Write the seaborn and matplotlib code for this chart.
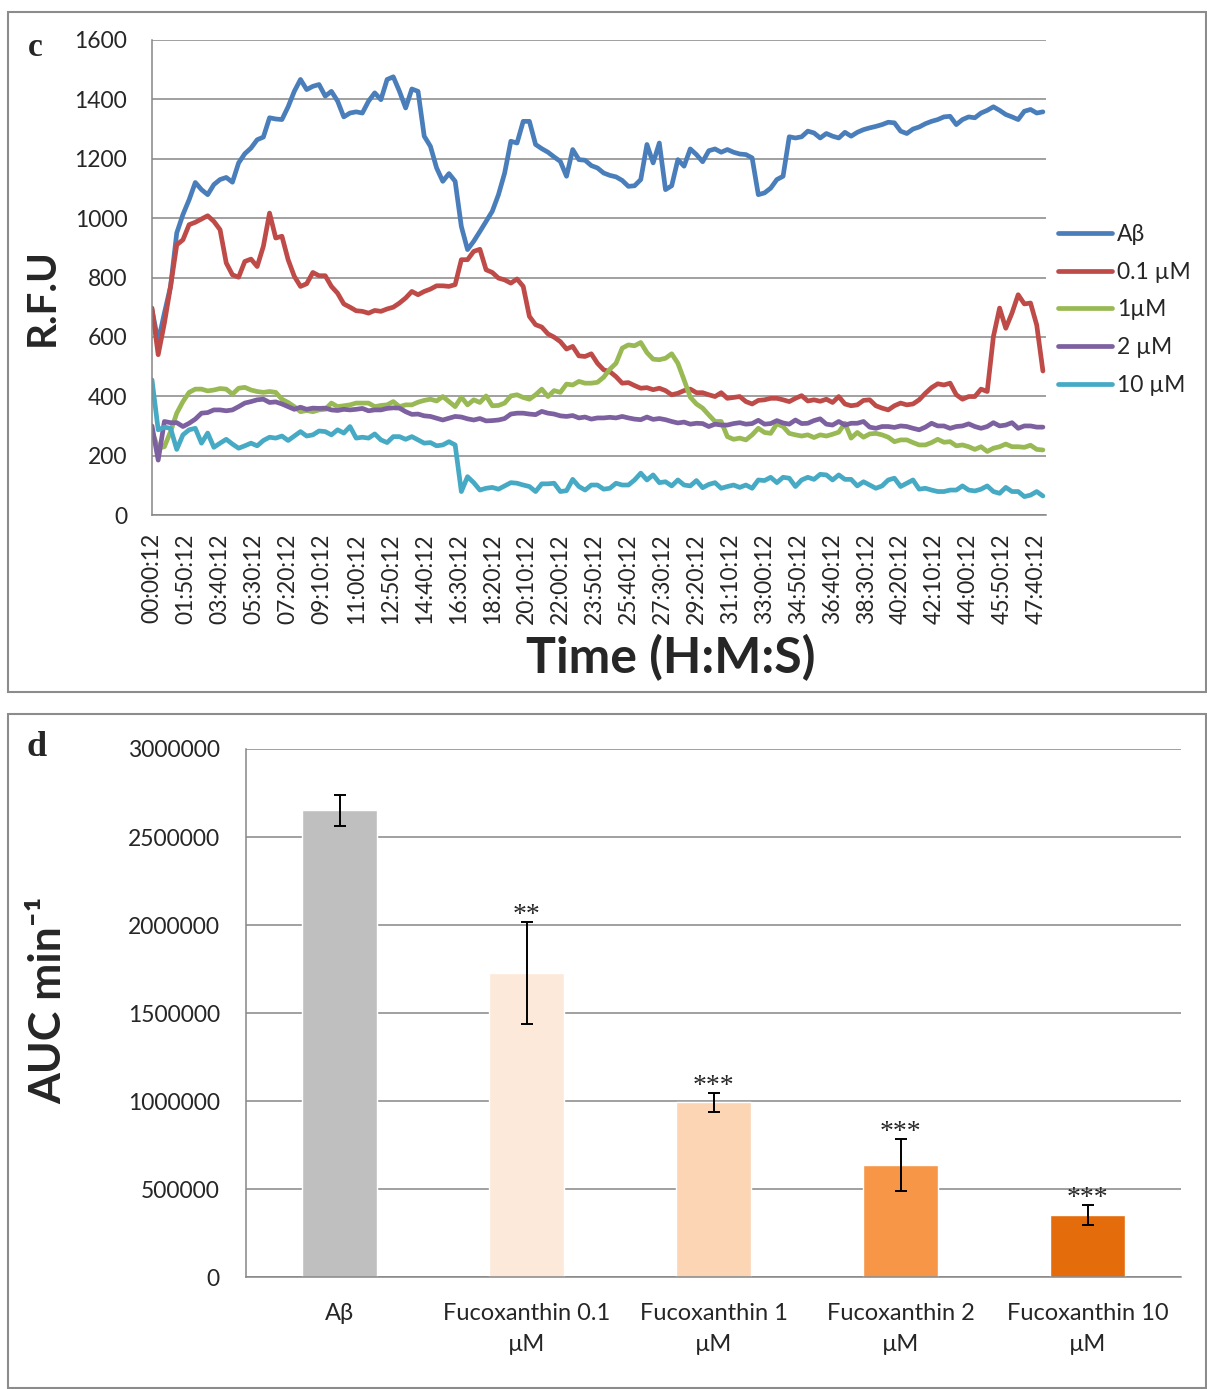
import numpy as np
import pandas as pd
import matplotlib
matplotlib.use("Agg")
import matplotlib.pyplot as plt
import seaborn as sns
from matplotlib.patches import Rectangle
from matplotlib.lines import Line2D

# ---------------- data: panel c (RFU over time, one value every 20 min) -------------
minutes = list(range(0, 2881, 20))

abeta = [691, 584, 680, 770, 950, 1012, 1062, 1120, 1096, 1079, 1113, 1130, 1137, 1121, 1186, 1217, 1236, 1264, 1273, 1338, 1334, 1332, 1375, 1427, 1467, 1433, 1444, 1450, 1411,
         1427, 1394, 1341, 1354, 1358, 1354, 1394, 1422, 1399, 1467, 1476, 1427, 1371, 1435, 1427, 1276, 1242, 1169, 1124, 1150, 1124, 972, 894, 922, 955, 989, 1023, 1079, 1152,
         1259, 1253, 1326, 1326, 1248, 1234, 1222, 1206, 1191, 1141, 1231, 1197, 1195, 1177, 1169, 1152, 1144, 1139, 1127, 1107, 1109, 1130, 1248, 1186, 1253, 1096, 1109, 1197, 1175,
         1233, 1214, 1190, 1227, 1233, 1222, 1231, 1222, 1216, 1214, 1203, 1079, 1085, 1101, 1130, 1141, 1274, 1270, 1274, 1293, 1287, 1270, 1285, 1276, 1270, 1289, 1276, 1289, 1298,
         1304, 1309, 1315, 1323, 1321, 1293, 1285, 1300, 1307, 1318, 1326, 1332, 1341, 1343, 1315, 1332, 1341, 1338, 1354, 1363, 1375, 1363, 1349, 1341, 1332, 1360, 1366, 1354, 1358]

fx_01 = [697, 540, 646, 770, 910, 927, 978, 986, 997, 1008, 989, 961, 849, 809, 801, 854, 862, 837, 905, 1017, 933, 939, 860, 804, 770, 779, 817, 806, 806,
         770, 747, 711, 700, 688, 686, 680, 689, 686, 694, 700, 714, 731, 753, 742, 753, 761, 772, 772, 770, 776, 860, 860, 888, 895, 826, 817, 798, 792,
         781, 795, 770, 669, 641, 633, 610, 599, 584, 559, 568, 536, 534, 543, 511, 489, 483, 466, 444, 446, 436, 427, 429, 422, 427, 419, 405, 410, 419,
         424, 412, 412, 405, 399, 412, 393, 396, 399, 382, 374, 386, 388, 393, 393, 388, 382, 393, 402, 384, 388, 383, 390, 379, 399, 374, 368, 371, 386,
         388, 368, 360, 354, 368, 377, 371, 374, 388, 410, 429, 442, 438, 444, 405, 390, 399, 399, 424, 416, 601, 697, 629, 680, 742, 711, 714, 640, 485]

fx_1 = [280, 225, 230, 281, 343, 382, 413, 424, 424, 418, 421, 426, 424, 407, 427, 430, 421, 416, 413, 416, 413, 390, 379, 365, 348, 352, 348, 354, 356,
        377, 365, 368, 371, 377, 377, 377, 365, 369, 371, 382, 365, 371, 371, 380, 386, 390, 384, 399, 382, 365, 397, 371, 388, 379, 401, 368, 369, 377,
        401, 405, 396, 390, 405, 424, 399, 419, 413, 441, 438, 450, 444, 444, 447, 464, 491, 511, 562, 573, 570, 581, 547, 525, 523, 528, 543, 511, 455,
        397, 374, 360, 337, 315, 315, 264, 255, 259, 253, 270, 292, 278, 275, 307, 298, 275, 270, 266, 270, 261, 270, 266, 272, 279, 309, 259, 278, 262,
        273, 275, 270, 262, 247, 253, 253, 244, 236, 236, 244, 255, 245, 247, 233, 236, 230, 221, 230, 214, 225, 230, 239, 230, 230, 228, 235, 221, 219]

fx_2 = [300, 185, 315, 311, 311, 298, 309, 323, 343, 345, 354, 354, 351, 354, 365, 377, 382, 388, 390, 379, 381, 374, 365, 356, 363, 356, 360, 359, 360,
        354, 352, 356, 354, 356, 359, 351, 354, 354, 359, 361, 360, 348, 339, 340, 334, 332, 326, 320, 326, 332, 330, 324, 320, 325, 317, 318, 320, 325,
        340, 343, 343, 340, 338, 349, 343, 340, 334, 332, 335, 327, 330, 323, 327, 327, 329, 327, 332, 327, 323, 321, 330, 322, 325, 321, 315, 310, 313,
        306, 309, 308, 298, 306, 303, 303, 308, 311, 306, 308, 319, 306, 308, 318, 310, 306, 320, 308, 309, 318, 324, 306, 303, 315, 303, 309, 309, 315,
        296, 292, 298, 298, 295, 300, 298, 292, 287, 296, 309, 300, 300, 292, 298, 300, 307, 298, 292, 298, 311, 300, 303, 311, 292, 300, 300, 296, 296]

fx_10 = [455, 287, 296, 292, 221, 270, 287, 292, 242, 276, 228, 242, 255, 239, 225, 233, 242, 233, 251, 262, 259, 266, 251, 266, 281, 266, 270, 283, 281,
         270, 287, 276, 298, 259, 262, 259, 273, 253, 244, 264, 264, 255, 264, 253, 242, 244, 233, 236, 247, 236, 79, 129, 109, 84, 90, 93, 87, 98,
         109, 107, 101, 96, 79, 105, 105, 107, 79, 82, 120, 96, 84, 101, 101, 87, 90, 107, 101, 101, 118, 141, 118, 135, 109, 112, 98, 118, 101,
         98, 116, 92, 103, 109, 90, 96, 101, 93, 101, 90, 118, 116, 127, 109, 127, 124, 96, 118, 127, 120, 137, 135, 118, 135, 120, 120, 98, 112,
         101, 90, 98, 118, 124, 96, 107, 118, 87, 90, 84, 79, 79, 84, 84, 98, 84, 81, 87, 98, 79, 73, 93, 79, 79, 62, 67, 79, 64]

series_names = ["Aβ", "0.1 µM", "1µM", "2 µM", "10 µM"]
series_colors = ["#4A7EBB", "#BE4B48", "#98B954", "#7D60A0", "#46AAC5"]

time_tick_labels = ["00:00:12", "01:50:12", "03:40:12", "05:30:12", "07:20:12", "09:10:12",
                    "11:00:12", "12:50:12", "14:40:12", "16:30:12", "18:20:12", "20:10:12",
                    "22:00:12", "23:50:12", "25:40:12", "27:30:12", "29:20:12", "31:10:12",
                    "33:00:12", "34:50:12", "36:40:12", "38:30:12", "40:20:12", "42:10:12",
                    "44:00:12", "45:50:12", "47:40:12"]
time_tick_minutes = [110 * i for i in range(len(time_tick_labels))]
rfu_ticks = [0, 200, 400, 600, 800, 1000, 1200, 1400, 1600]

# ---------------- data: panel d (AUC bars) ----------------
auc_categories = ["Aβ", "Fucoxanthin 0.1\nµM", "Fucoxanthin 1\nµM",
                  "Fucoxanthin 2\nµM", "Fucoxanthin 10\nµM"]
auc_mean = [2653000, 1727000, 994000, 636000, 352000]
auc_err = [88000, 290000, 54000, 150000, 57000]
auc_sig = ["", "**", "***", "***", "***"]
auc_colors = ["#BFBFBF", "#FDE9D9", "#FCD5B5", "#F79646", "#E46C0A"]
auc_ticks = [0, 500000, 1000000, 1500000, 2000000, 2500000, 3000000]

# ---------------- style ----------------
sns.set_style("white")
FONT = ["Lato", "Noto Sans", "DejaVu Sans"]
plt.rcParams["font.family"] = FONT
GRID = "#868686"
LW = 3.4

W, H = 1207, 1389
fig = plt.figure(figsize=(W / 100, H / 100), dpi=100)

def fx(px):
    return px / W

def fy(py):
    return 1 - py / H

# panel frames
for top, bottom in [(12, 692), (714, 1388)]:
    fig.add_artist(Rectangle((fx(8), fy(bottom)), fx(1206) - fx(8), fy(top) - fy(bottom),
                             transform=fig.transFigure, fill=False,
                             edgecolor="#8C8C8C", linewidth=1.5))

# ---------------- panel c ----------------
ax1 = fig.add_axes([fx(152), fy(515), fx(1046) - fx(152), fy(40) - fy(515)])
long = pd.DataFrame({
    "minute": minutes * 5,
    "RFU": abeta + fx_01 + fx_1 + fx_2 + fx_10,
    "series": sum([[n] * len(minutes) for n in series_names], []),
})
sns.lineplot(data=long, x="minute", y="RFU", hue="series", hue_order=series_names,
             palette=dict(zip(series_names, series_colors)), linewidth=LW,
             estimator=None, sort=False, legend=False, ax=ax1)
for ln in ax1.get_lines():
    ln.set_solid_capstyle("round")
    ln.set_solid_joinstyle("round")

ax1.set_xlim(0, 2890)
ax1.set_ylim(0, 1600)
ax1.set_yticks(rfu_ticks)
ax1.set_yticklabels([str(v) for v in rfu_ticks], fontsize=16.5)
ax1.set_xticks(time_tick_minutes)
ax1.set_xticklabels(time_tick_labels, rotation=90, fontsize=16.5)
ax1.set_xticks(list(range(0, 2891, 100)), minor=True)
ax1.tick_params(axis="x", which="major", length=0, pad=13)
ax1.tick_params(axis="x", which="minor", length=5, width=1.1, color=GRID, direction="out")
ax1.tick_params(axis="y", which="major", length=5.8, width=1.1, color=GRID, direction="out", pad=12)
ax1.yaxis.grid(True, color=GRID, linewidth=1.1)
ax1.set_axisbelow(True)
for s in ["top", "right"]:
    ax1.spines[s].set_visible(False)
for s in ["left", "bottom"]:
    ax1.spines[s].set_color(GRID)
    ax1.spines[s].set_linewidth(1.1)
ax1.set_xlabel("")
ax1.set_ylabel("")

handles = [Line2D([0], [0], color=c, linewidth=LW, solid_capstyle="round") for c in series_colors]
ax1.legend(handles, series_names, loc="center left", bbox_to_anchor=(fx(1058), fy(310)),
           bbox_transform=fig.transFigure, frameon=False, fontsize=16.5,
           handlelength=2.36, handletextpad=0.2, labelspacing=0.74,
           borderaxespad=0, borderpad=0)

fig.text(fx(42), fy(297), "R.F.U", rotation=90, ha="center", va="center",
         fontsize=29, fontweight="bold")
fig.text(fx(671), fy(658), "Time (H:M:S)", ha="center", va="center",
         fontsize=36, fontweight="bold")
fig.text(fx(35), fy(47), "c", ha="center", va="center", fontsize=24,
         fontweight="bold", family=["Liberation Serif", "DejaVu Serif"])

# ---------------- panel d ----------------
ax2 = fig.add_axes([fx(246), fy(1277), fx(1181) - fx(246), fy(749) - fy(1277)])
sns.barplot(x=auc_categories, y=auc_mean, hue=auc_categories, palette=auc_colors,
            width=0.4, saturation=1, legend=False, errorbar=None, ax=ax2)
xpos = list(range(len(auc_categories)))
ax2.errorbar(xpos, auc_mean, yerr=auc_err, fmt="none", ecolor="black",
             elinewidth=1.4, capsize=4.3, capthick=1.4, zorder=5)
for i, lab in enumerate(auc_sig):
    if lab:
        ax2.annotate(lab, (xpos[i], auc_mean[i] + auc_err[i]), xytext=(0, 0),
                     textcoords="offset points", ha="center", va="baseline",
                     fontsize=20, family=["Liberation Serif", "DejaVu Serif"])

ax2.set_xlim(-0.5, len(auc_categories) - 0.5)
ax2.set_ylim(0, 3000000)
ax2.set_yticks(auc_ticks)
ax2.set_yticklabels([str(v) for v in auc_ticks], fontsize=16.5)
ax2.set_xticks(xpos)
ax2.set_xticklabels(auc_categories, fontsize=17, linespacing=1.55)
ax2.set_xticks([i - 0.5 for i in range(len(auc_categories) + 1)], minor=True)
ax2.tick_params(axis="x", which="major", length=0, pad=19)
ax2.tick_params(axis="x", which="minor", length=5.8, width=1.1, color=GRID, direction="out")
ax2.tick_params(axis="y", which="major", length=5.8, width=1.1, color=GRID, direction="out", pad=13)
ax2.yaxis.grid(True, color=GRID, linewidth=1.1)
ax2.set_axisbelow(True)
for s in ["top", "right"]:
    ax2.spines[s].set_visible(False)
for s in ["left", "bottom"]:
    ax2.spines[s].set_color(GRID)
    ax2.spines[s].set_linewidth(1.1)
ax2.set_xlabel("")
ax2.set_ylabel("")

fig.text(fx(48), fy(1000), "AUC min⁻¹", rotation=90, ha="center", va="center",
         fontsize=32, fontweight="bold")
fig.text(fx(37), fy(748), "d", ha="center", va="center", fontsize=26,
         fontweight="bold", family=["Liberation Serif", "DejaVu Serif"])

fig.savefig("out.png", dpi=100)
